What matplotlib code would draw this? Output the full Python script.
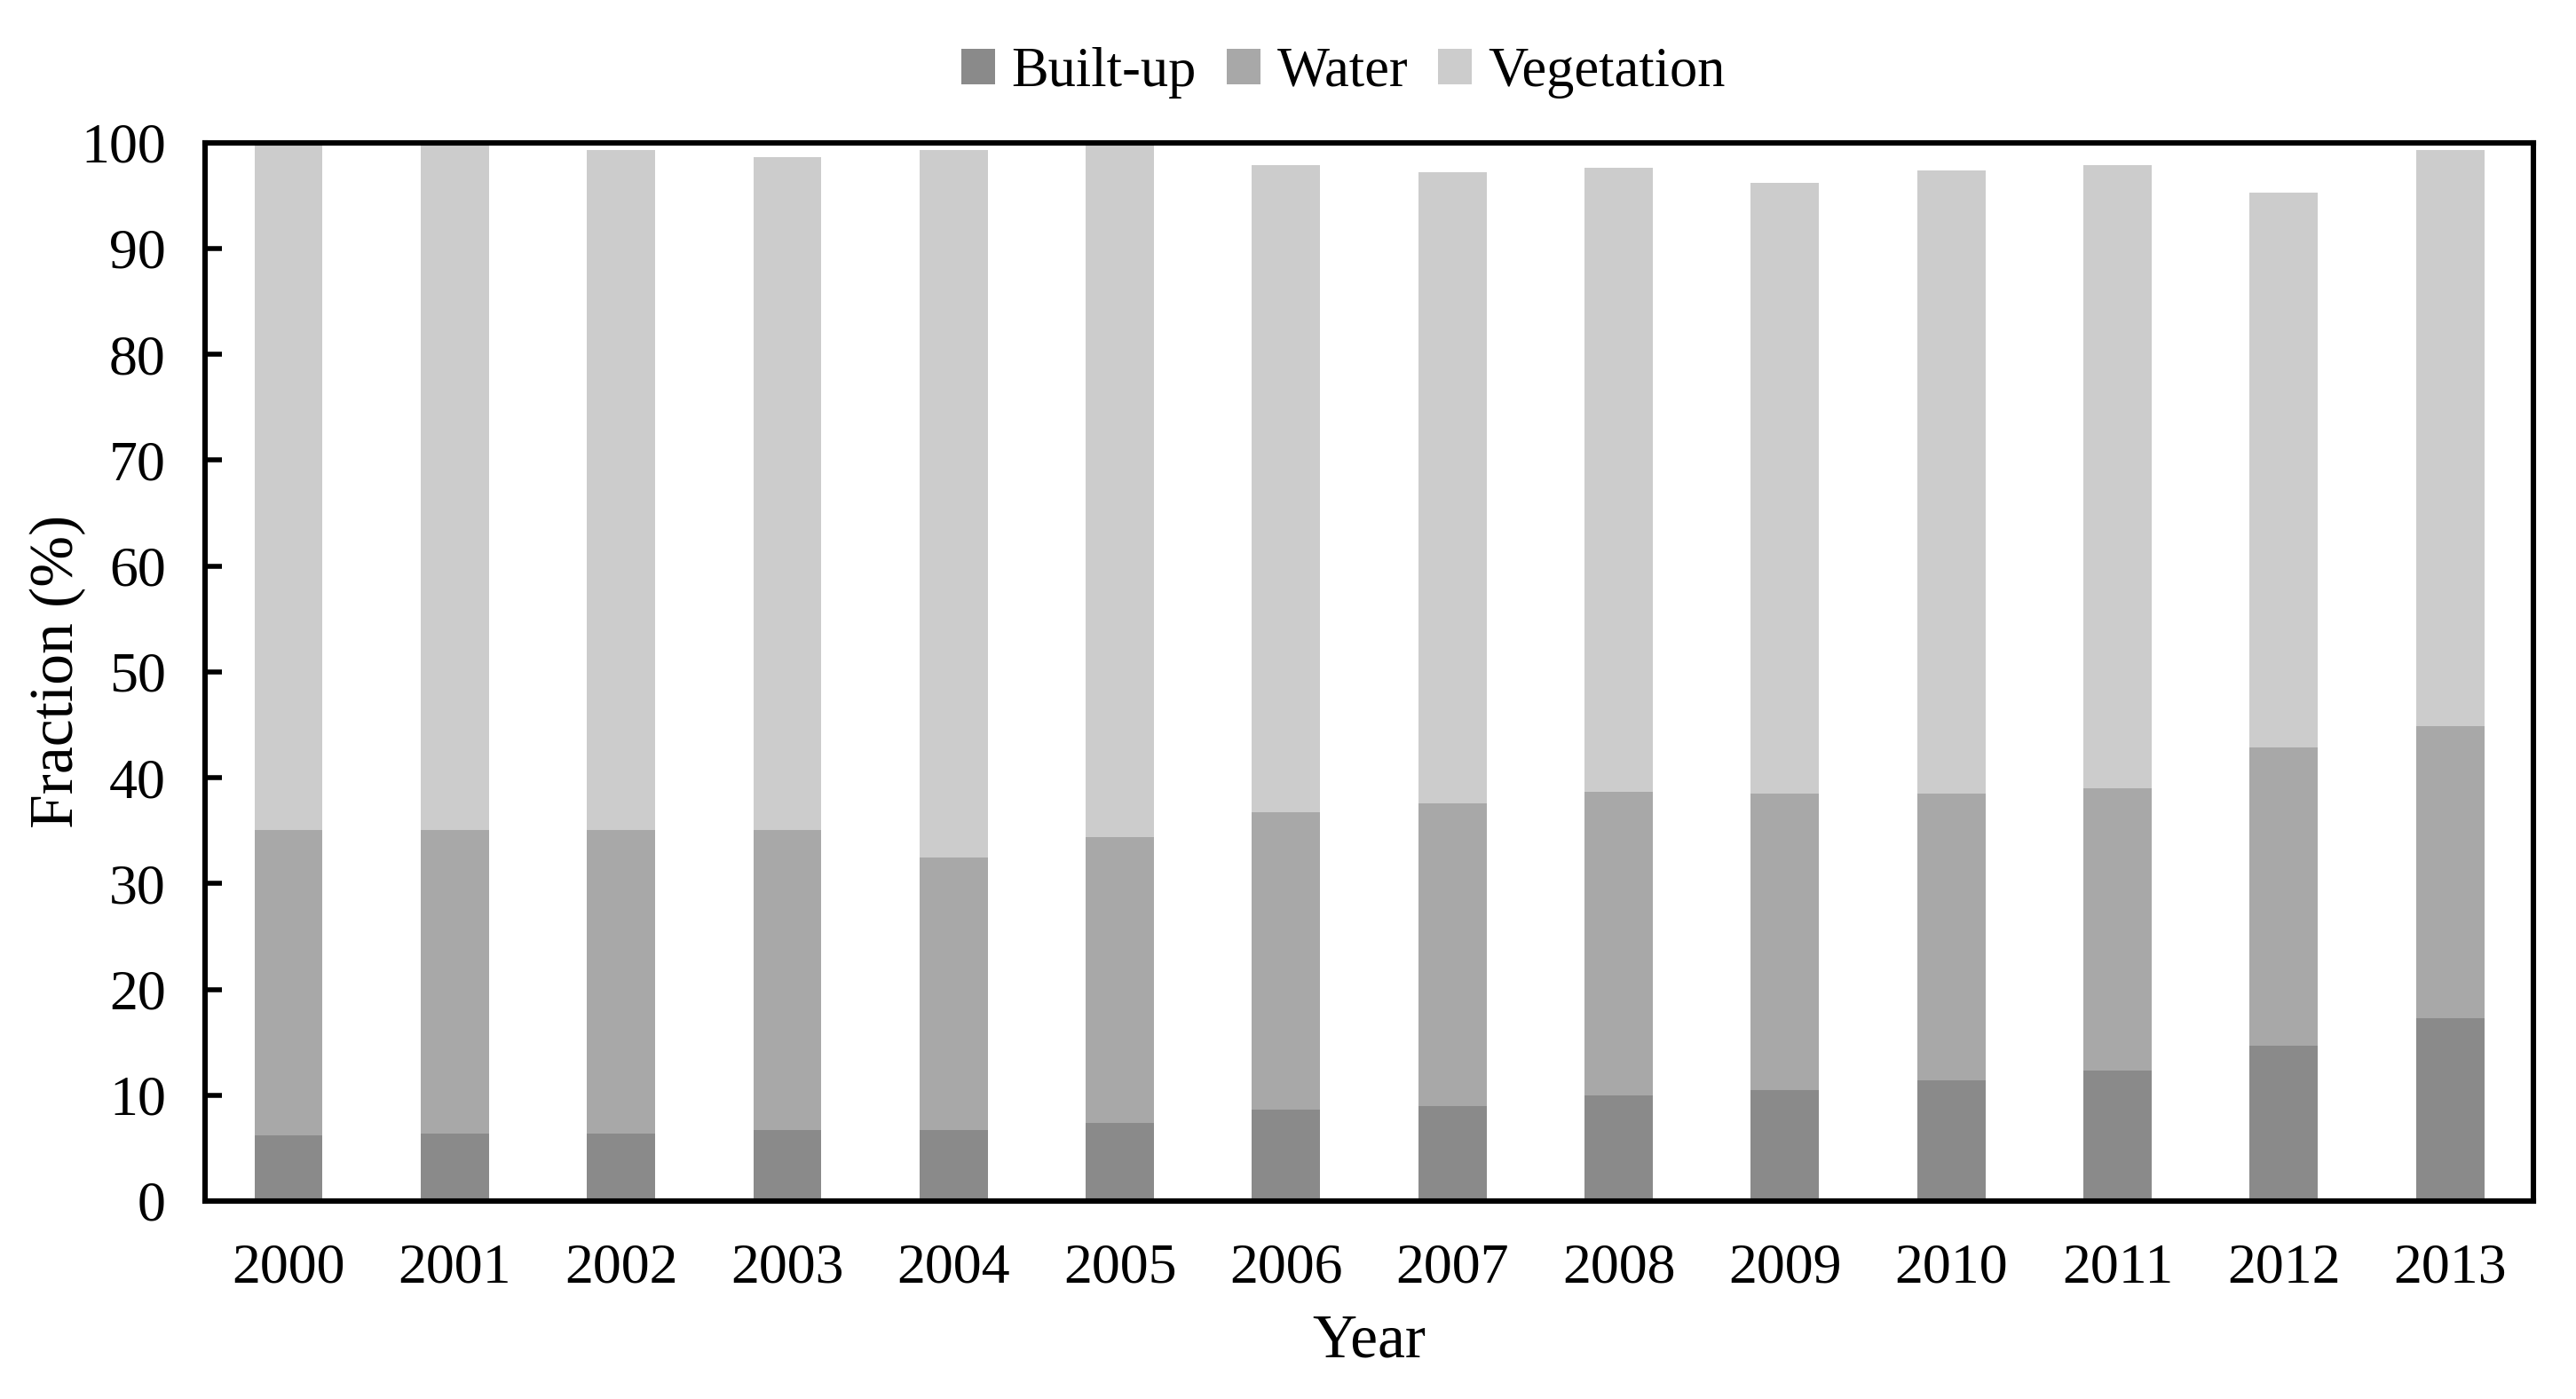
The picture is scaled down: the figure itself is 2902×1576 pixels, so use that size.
import matplotlib.pyplot as plt
import numpy as np

plt.rcParams['font.family'] = ['Liberation Serif', 'DejaVu Serif']

# land cover fractions per year (%)
years = ['2000', '2001', '2002', '2003', '2004', '2005', '2006',
         '2007', '2008', '2009', '2010', '2011', '2012', '2013']
built_up = [6.2, 6.4, 6.4, 6.7, 6.7, 7.4, 8.6, 9.0, 10.0, 10.5, 11.4, 12.3, 14.7, 17.3]
water = [28.9, 28.7, 28.7, 28.4, 25.8, 27.0, 28.1, 28.6, 28.7, 28.0, 27.1, 26.7, 28.2, 27.6]
vegetation = [64.9, 64.7, 64.2, 63.5, 66.8, 65.6, 61.2, 59.6, 58.9, 57.7, 58.9, 58.9, 52.4, 54.4]

fig = plt.figure(figsize=(14.51, 7.88), dpi=200)
ax = fig.add_axes([0.0797, 0.1415, 0.9037, 0.7565])

x = np.arange(len(years))
w = 0.41
b = np.array(built_up)
wt = np.array(water)
ax.bar(x, built_up, w, color='#8a8a8a', label='Built-up')
ax.bar(x, water, w, bottom=b, color='#a8a8a8', label='Water')
ax.bar(x, vegetation, w, bottom=b + wt, color='#cccccc', label='Vegetation')

ax.set_xlim(-0.5, len(years) - 0.5)
ax.set_ylim(0, 100)
ax.set_yticks(range(0, 101, 10))
ax.set_xticks(x)
ax.set_xticklabels(years)
ax.tick_params(axis='y', direction='in', length=7, width=2, labelsize=23, pad=16)
ax.tick_params(axis='x', length=0, labelsize=23, pad=17)
for s in ax.spines.values():
    s.set_linewidth(2.2)

ax.set_xlabel('Year', fontsize=25, labelpad=8)
ax.set_ylabel('Fraction (%)', fontsize=25, labelpad=-2)

ax.legend(loc='lower center', bbox_to_anchor=(0.489, 1.0), ncol=3, frameon=False,
          fontsize=22.5, handlelength=0.6, handleheight=0.6, handletextpad=0.3,
          columnspacing=0.55, borderaxespad=0.4)

plt.savefig('out.png', dpi=200)
